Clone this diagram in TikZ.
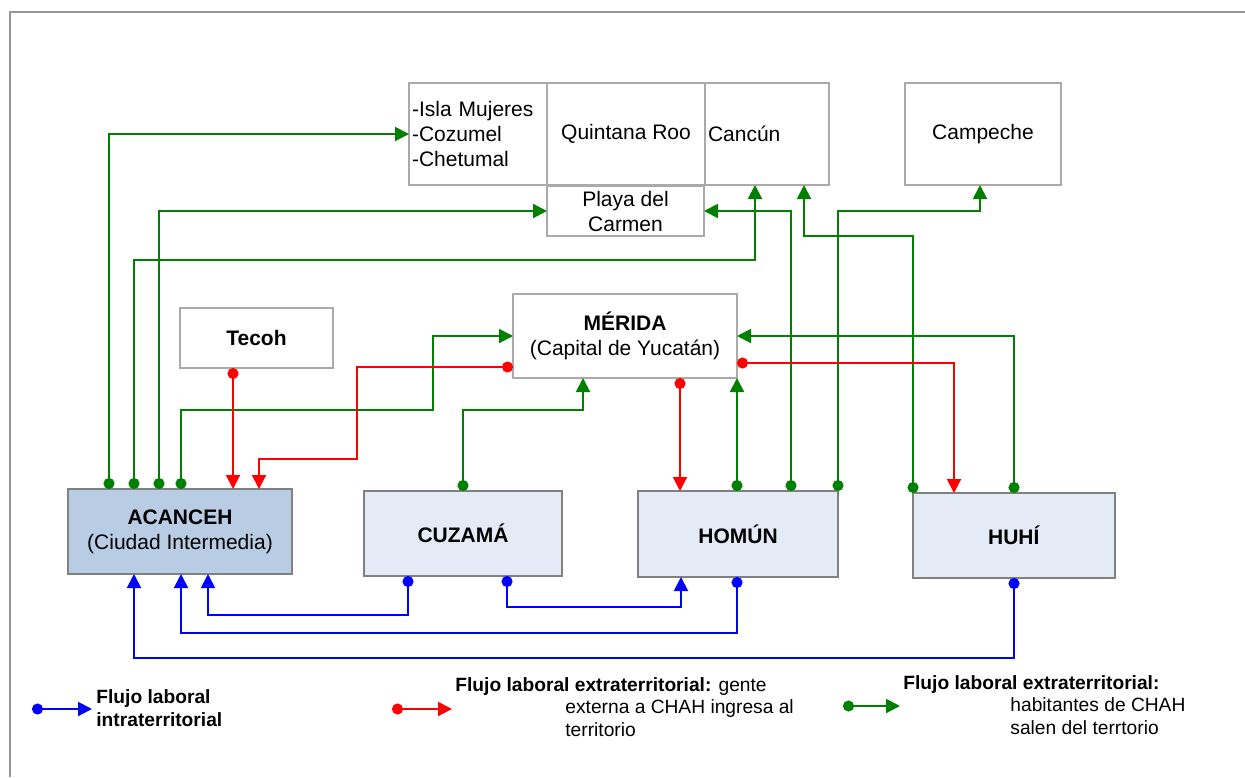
\documentclass[tikz,border=0pt]{standalone}
\usepackage{fontspec}
\setmainfont{Liberation Sans}
\usetikzlibrary{arrows.meta,calc}
\definecolor{flowgreen}{RGB}{0,128,0}
\definecolor{townfill}{RGB}{228,235,246}
\definecolor{hubfill}{RGB}{184,204,228}
\definecolor{boxgray}{RGB}{128,128,128}
\definecolor{linegray}{RGB}{170,170,170}
\definecolor{framegray}{RGB}{150,150,150}

\begin{document}
\begin{tikzpicture}[x=0.5pt,y=-0.5pt,
        font=\fontsize{10.5}{12.5}\selectfont,
        town/.style={draw=boxgray,line width=1.1pt,fill=townfill,anchor=north west,inner sep=0pt,outer sep=0pt,align=center},
        place/.style={draw=linegray,line width=0.6pt,fill=white,anchor=north west,inner sep=0pt,outer sep=0pt,align=center},
        legend/.style={anchor=west,inner sep=0pt,align=left,font=\fontsize{9.6}{11.3}\selectfont},
        flow/.style={line width=1pt,{Circle[length=5.5pt]}-{Triangle[length=7pt,width=7pt]}},
        gflow/.style={flow,draw=flowgreen},
        rflow/.style={flow,draw=red},
        bflow/.style={flow,draw=blue}]
        \useasboundingbox (0,0) rectangle (1245,777);
        \draw[framegray,line width=1pt] (10,777) -- (10,12) -- (1245,12);

        \node[town,fill=hubfill,minimum width=112pt,minimum height=42.5pt] (acanceh) at (68,489) {\textbf{ACANCEH}\\(Ciudad Intermedia)};
        \node[town,minimum width=99pt,minimum height=42.5pt] (cuzama) at (364,491) {\textbf{CUZAMÁ}};
        \node[town,minimum width=100pt,minimum height=43pt] (homun) at (638,491) {\textbf{HOMÚN}};
        \node[town,minimum width=101pt,minimum height=42.5pt] (huhi) at (913,493) {\textbf{HUHÍ}};
        \node[place,minimum width=76.5pt,minimum height=30pt] (tecoh) at (180,308) {\textbf{Tecoh}};
        \node[place,minimum width=112pt,minimum height=42pt] (merida) at (513,294) {\textbf{MÉRIDA}\\(Capital de Yucatán)};
        \node[place,minimum height=51pt,text width=66pt,inner xsep=1.5pt,align=left] (isla) at (409,83) {-Isla Mujeres\\-Cozumel\\-Chetumal};
        \node[place,minimum width=79pt,minimum height=51pt] (quintana) at (547,83) {Quintana Roo};
        \node[place,minimum height=51pt,text width=59pt,inner xsep=1.5pt,align=left] (cancun) at (705,83) {Cancún};
        \node[place,minimum width=78.5pt,minimum height=25pt] (playa) at (547,186) {Playa del\\Carmen};
        \node[place,minimum width=78pt,minimum height=51pt] (campeche) at (905,83) {Campeche};

        \draw[gflow] ($(acanceh.north west)+(41,0)$) |- (isla.west);
        \draw[gflow] ($(acanceh.north west)+(66,0)$) |- ($(cancun.south west)+(50,75)$) -- ($(cancun.south west)+(50,0)$);
        \draw[gflow] ($(acanceh.north west)+(91,0)$) |- (playa.west);
        \draw[gflow] ($(acanceh.north west)+(113,0)$) |- ($(merida.west)+(-80,74)$) |- (merida.west);
        \draw[gflow] (cuzama.north) |- ($(merida.south west)+(70,32)$) -- ($(merida.south west)+(70,0)$);
        \draw[gflow] ($(homun.north west)+(99,0)$) -- (merida.south east);
        \draw[gflow] ($(homun.north west)+(153,0)$) |- (playa.east);
        \draw[gflow] (homun.north east) |- ($(campeche.south west)+(75,26)$) -- ($(campeche.south west)+(75,0)$);
        \draw[gflow] (huhi.north west) |- ($(cancun.south west)+(99,51)$) -- ($(cancun.south west)+(99,0)$);
        \draw[gflow] (huhi.north) |- (merida.east);

        \draw[rflow] ($(tecoh.south west)+(53,0)$) -- ($(acanceh.north west)+(165,0)$);
        \draw[rflow] ($(merida.west)+(0,31)$) -| ($(merida.west)+(-156,123)$) -| ($(acanceh.north west)+(191,0)$);
        \draw[rflow] ($(merida.south west)+(167,0)$) -- ($(homun.north west)+(42,0)$);
        \draw[rflow] ($(merida.east)+(0,27)$) -| ($(huhi.north west)+(41,0)$);

        \draw[bflow] ($(cuzama.south west)+(44,0)$) |- ($(acanceh.south west)+(140,41)$) -- ($(acanceh.south west)+(140,0)$);
        \draw[bflow] ($(cuzama.south west)+(143,0)$) |- ($(homun.south west)+(43,30)$) -- ($(homun.south west)+(43,0)$);
        \draw[bflow] ($(homun.south west)+(99,0)$) |- ($(acanceh.south west)+(113,59)$) -- ($(acanceh.south west)+(113,0)$);
        \draw[bflow] (huhi.south) |- ($(acanceh.south west)+(66,84)$) -- ($(acanceh.south west)+(66,0)$);

        \coordinate (bstart) at (32,709);
        \coordinate (bend) at (92,709);
        \draw[bflow] (bstart) -- (bend);
        \node[legend] (btext) at (96,708) {\textbf{Flujo laboral}\\\textbf{intraterritorial}};
        \coordinate (rstart) at (392,709);
        \coordinate (rend) at (452,709);
        \draw[rflow] (rstart) -- (rend);
        \node[legend] (rtext) at (455,707) {\textbf{Flujo laboral extraterritorial:} gente\\\hspace*{55pt}externa a CHAH ingresa al\\\hspace*{55pt}territorio};
        \coordinate (gstart) at (843,706);
        \coordinate (gend) at (900,706);
        \draw[gflow] (gstart) -- (gend);
        \node[legend] (gtext) at (903,705) {\textbf{Flujo laboral extraterritorial:}\\\hspace*{53.5pt}habitantes de CHAH\\\hspace*{53.5pt}salen del terrtorio};
\end{tikzpicture}
\end{document}
